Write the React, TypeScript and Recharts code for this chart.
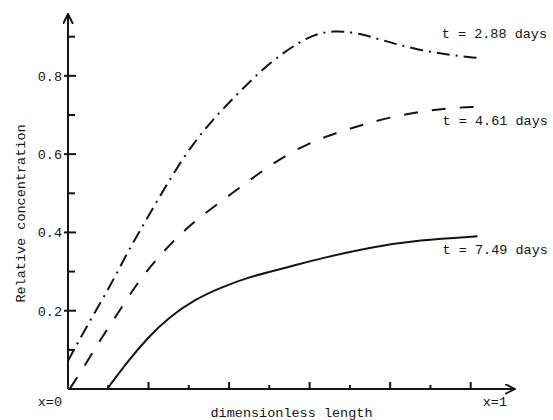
import React from 'react';
import { LineChart, Line, XAxis, YAxis } from 'recharts';

// t = 2.88 days (dash-dot)
const X_288 = [0, 0.055, 0.104, 0.146, 0.179, 0.211, 0.248, 0.295, 0.36, 0.427, 0.5, 0.6, 0.66, 0.72, 0.79, 0.87, 0.95, 1.015];
const Y_288 = [0.072, 0.176, 0.261, 0.346, 0.404, 0.463, 0.526, 0.606, 0.69, 0.76, 0.835, 0.905, 0.916, 0.91, 0.888, 0.866, 0.853, 0.846];

// t = 4.61 days (dashed)
const X_461 = [0.004, 0.042, 0.075, 0.109, 0.149, 0.186, 0.228, 0.27, 0.323, 0.402, 0.469, 0.526, 0.593, 0.667, 0.732, 0.806, 0.88, 0.948, 1.017];
const Y_461 = [0, 0.06, 0.117, 0.17, 0.234, 0.29, 0.341, 0.387, 0.436, 0.496, 0.547, 0.588, 0.626, 0.655, 0.675, 0.696, 0.709, 0.718, 0.721];

// t = 7.49 days (solid)
const X_749 = [0.097, 0.15, 0.199, 0.248, 0.315, 0.381, 0.447, 0.514, 0.563, 0.625, 0.749, 0.873, 1.017];
const Y_749 = [0, 0.073, 0.132, 0.181, 0.229, 0.26, 0.285, 0.303, 0.316, 0.333, 0.362, 0.381, 0.39];

const X_TICKS = [0, 0.1, 0.2, 0.3, 0.4, 0.5, 0.6, 0.7, 0.8, 0.9, 1.0];
const Y_TICKS = [0.1, 0.2, 0.3, 0.4, 0.5, 0.6, 0.7, 0.8, 0.9];
const Y_LABELED = [0.2, 0.4, 0.6, 0.8];

const SERIES_LABELS = ['t = 2.88 days', 't = 4.61 days', 't = 7.49 days'];

const zip = (xs: number[], ys: number[]) => xs.map((x, i) => ({ x, y: ys[i] }));

const INK = '#141414';
const FONT = '"Liberation Mono", "DejaVu Sans Mono", monospace';

const isMajor = (v: number) => Y_LABELED.some((m) => Math.abs(m - v) < 1e-6);

const YTick = (props: any) => {
  const { x, y, payload } = props;
  const v = payload.value as number;
  if (isMajor(v)) {
    return (
      <g>
        <line x1={x - 4} x2={x + 8} y1={y} y2={y} stroke={INK} strokeWidth={2} />
        <text x={x - 6} y={y} dy={5} textAnchor="end" fontFamily={FONT} fontSize={13.5} fill={INK}>
          {v.toFixed(1)}
        </text>
      </g>
    );
  }
  return <line x1={x} x2={x + 7} y1={y} y2={y} stroke={INK} strokeWidth={2} />;
};

const XTick = (props: any) => {
  const { x, y, payload } = props;
  const v = payload.value as number;
  if (v === 0) {
    return (
      <text x={x - 6} y={y + 17} textAnchor="end" fontFamily={FONT} fontSize={13.5} fill={INK}>
        x=0
      </text>
    );
  }
  const major = Math.round(v * 10) % 2 === 0;
  return (
    <g>
      <line x1={x} x2={x} y1={y} y2={y - (major ? 7 : 4)} stroke={INK} strokeWidth={2} />
      {v === 1 && (
        <text x={x + 12} y={y + 17} textAnchor="start" fontFamily={FONT} fontSize={13.5} fill={INK}>
          x=1
        </text>
      )}
    </g>
  );
};

const endLabel = (text: string, dy: number, count: number) => (props: any) => {
  const { x, y, index } = props;
  if (index !== count - 1) return null;
  return (
    <text key="end" x={x - 35} y={y + dy} fontFamily={FONT} fontSize={13.5} fill={INK}>
      {text}
    </text>
  );
};

export default function App() {
  return (
    <div style={{ position: 'absolute', left: 0, top: 0, background: '#fff' }}>
      <LineChart width={553} height={420} margin={{ top: 14, right: 38, bottom: 0, left: 0 }}>
        <defs>
          <marker id="arrow" viewBox="0 0 10 10" refX={9} refY={5} markerWidth={11} markerHeight={11}
            markerUnits="userSpaceOnUse" orient="auto-start-reverse">
            <path d="M0,0.5 L9,5 L0,9.5" fill="none" stroke={INK} strokeWidth={1.8} />
          </marker>
        </defs>
        <XAxis
          type="number"
          dataKey="x"
          domain={[0, 1.11]}
          ticks={X_TICKS}
          interval={0}
          height={31}
          tickSize={0}
          tickMargin={0}
          tickLine={false}
          tick={<XTick />}
          axisLine={{ stroke: INK, strokeWidth: 2, markerEnd: 'url(#arrow)' }}
          allowDataOverflow
          label={{
            value: 'dimensionless length',
            position: 'insideBottom',
            offset: 3,
            style: { fontFamily: FONT, fontSize: 13.5, fill: INK },
          }}
        />
        <YAxis
          type="number"
          dataKey="y"
          domain={[0, 0.958]}
          ticks={Y_TICKS}
          interval={0}
          width={68}
          tickSize={0}
          tickMargin={0}
          tickLine={false}
          tick={<YTick />}
          axisLine={{ stroke: INK, strokeWidth: 2, markerStart: 'url(#arrow)' }}
          allowDataOverflow
          label={{
            content: ({ viewBox }: any) => (
              <text
                transform={`translate(${viewBox.x + 25}, ${viewBox.y + viewBox.height / 2 + 12}) rotate(-90)`}
                textAnchor="middle"
                fontFamily={FONT}
                fontSize={13.5}
                fill={INK}
              >
                Relative concentration
              </text>
            ),
          }}
        />
        <Line
          data={zip(X_288, Y_288)}
          dataKey="y"
          type="basis"
          stroke={INK}
          strokeWidth={2}
          strokeDasharray="13 6 2 6"
          dot={false}
          isAnimationActive={false}
          label={endLabel(SERIES_LABELS[0], -20, X_288.length)}
        />
        <Line
          data={zip(X_461, Y_461)}
          dataKey="y"
          type="basis"
          stroke={INK}
          strokeWidth={2}
          strokeDasharray="14 14"
          dot={false}
          isAnimationActive={false}
          label={endLabel(SERIES_LABELS[1], 18, X_461.length)}
        />
        <Line
          data={zip(X_749, Y_749)}
          dataKey="y"
          type="basis"
          stroke={INK}
          strokeWidth={2}
          dot={false}
          isAnimationActive={false}
          label={endLabel(SERIES_LABELS[2], 18, X_749.length)}
        />
      </LineChart>
    </div>
  );
}
